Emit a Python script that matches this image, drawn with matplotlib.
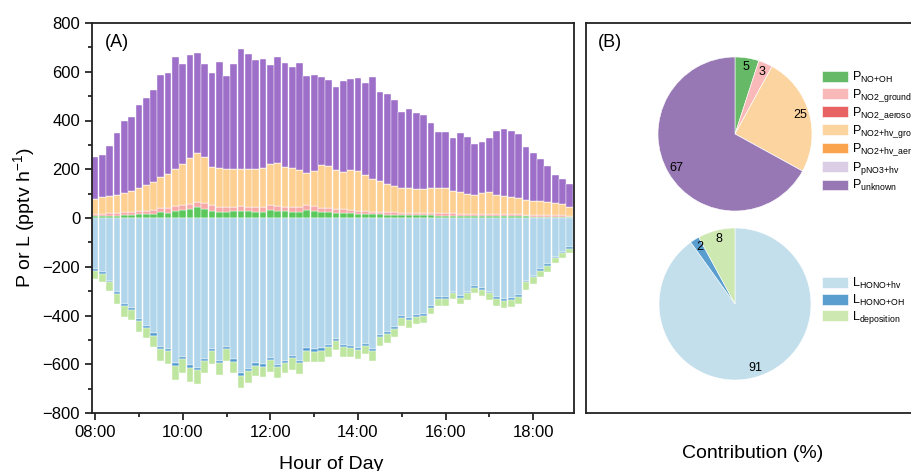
import matplotlib
matplotlib.use('Agg')
import matplotlib.pyplot as plt
import numpy as np
from matplotlib.ticker import MultipleLocator, FuncFormatter

plt.rcParams['font.family'] = ['Liberation Sans', 'DejaVu Sans']
plt.rcParams['mathtext.fontset'] = 'custom'
plt.rcParams['mathtext.rm'] = 'Liberation Sans'
plt.rcParams['mathtext.it'] = 'Liberation Sans:italic'

# 10-min bins from 08:00 to 18:50
hours = 8 + np.arange(66) / 6

# production terms (pptv h-1)
p_no_oh = [8, 8, 9, 10, 11, 14, 15, 16, 18, 24, 22, 30, 33, 36, 44, 38, 30, 26, 26, 27, 29, 27,
           26, 26, 33, 30, 27, 26, 26, 33, 30, 26, 23, 22, 22, 19, 16, 16, 15, 15, 14, 14, 12, 12,
           12, 11, 11, 10, 10, 10, 9, 9, 9, 9, 8, 8, 8, 8, 7, 7, 6, 6, 6, 5, 5, 4]
p_no2_ground = [7, 9, 10, 11, 12, 12, 13, 14, 14, 16, 18, 18, 20, 20, 22, 22, 22, 20, 18, 18, 19, 20,
                20, 20, 22, 21, 20, 18, 18, 20, 19, 16, 16, 15, 15, 13, 13, 12, 11, 10, 10, 10, 10, 10,
                10, 10, 10, 9, 9, 9, 9, 9, 9, 8, 8, 8, 8, 8, 8, 7, 7, 7, 6, 6, 6, 5]
p_no2_aerosol = [0.0] * 66       # not visible in the bars
p_no2_hv_ground = [62, 68, 71, 72, 78, 86, 95, 104, 116, 130, 142, 152, 169, 192, 199, 192, 159, 158, 157, 156, 154, 153,
                   154, 158, 167, 176, 164, 160, 153, 133, 145, 175, 174, 160, 153, 165, 165, 148, 133, 128, 115, 107, 100, 100,
                   96, 99, 103, 105, 103, 93, 90, 80, 76, 84, 91, 78, 74, 71, 66, 60, 57, 57, 55, 49, 45, 35]
p_no2_hv_aerosol = [0.0] * 66
p_pno3_hv = [0.0] * 66
p_unknown = [172, 173, 205, 254, 298, 304, 341, 357, 377, 417, 414, 462, 410, 421, 411, 380, 383, 437, 382, 431, 493, 473,
             448, 447, 406, 432, 426, 417, 440, 398, 393, 362, 353, 339, 373, 372, 382, 379, 420, 365, 368, 353, 314, 324,
             311, 304, 264, 230, 231, 215, 239, 233, 210, 212, 223, 263, 274, 271, 262, 216, 195, 171, 148, 118, 103, 94]

# loss terms (pptv h-1)
l_hono_hv = [211, 222, 257, 305, 353, 368, 414, 442, 473, 528, 539, 596, 572, 605, 615, 577, 539, 587, 529, 580, 637, 620,
             596, 600, 573, 603, 585, 566, 585, 535, 539, 535, 521, 496, 521, 525, 532, 516, 539, 480, 466, 446, 402, 412,
             399, 393, 361, 325, 325, 302, 320, 302, 279, 289, 302, 325, 332, 327, 316, 257, 237, 209, 190, 159, 139, 120]
l_hono_oh = [6, 6, 7, 8, 8, 8, 9, 8, 10, 8, 8, 10, 8, 9, 10, 8, 8, 8, 10, 9, 10, 9,
             10, 10, 10, 10, 10, 10, 10, 9, 10, 9, 10, 9, 8, 8, 8, 8, 8, 8, 9, 8, 8, 8,
             8, 8, 8, 9, 9, 7, 8, 7, 8, 8, 7, 9, 9, 9, 8, 7, 6, 7, 7, 5, 6, 6]
l_deposition = [35, 35, 34, 40, 44, 42, 43, 44, 45, 49, 52, 59, 55, 57, 56, 50, 52, 49, 46, 48, 52, 47,
                42, 44, 48, 45, 42, 48, 45, 45, 40, 45, 41, 37, 40, 39, 40, 35, 38, 37, 36, 35, 33, 32,
                28, 29, 25, 26, 26, 25, 26, 27, 22, 23, 27, 27, 30, 28, 29, 31, 28, 27, 26, 19, 18, 16]

# pie contributions (%)
prod_labels = [r'P$_{\mathrm{NO{+}OH}}$', r'P$_{\mathrm{NO2\_ground}}$', r'P$_{\mathrm{NO2\_aerosol}}$',
               r'P$_{\mathrm{NO2{+}hv\_ground}}$', r'P$_{\mathrm{NO2{+}hv\_aerosol}}$',
               r'P$_{\mathrm{pNO3{+}hv}}$', r'P$_{\mathrm{unknown}}$']
prod_share = [5, 3, 0, 25, 0, 0, 67]
loss_labels = [r'L$_{\mathrm{HONO{+}hv}}$', r'L$_{\mathrm{HONO{+}OH}}$', r'L$_{\mathrm{deposition}}$']
loss_share = [91, 2, 8]

prod_bar_colors = ['#5cc85c', '#f7a9a8', '#e8545a', '#fdcf91', '#fca044', '#dccbe6', '#9d6fc9']
loss_bar_colors = ['#b1d5ea', '#4f9bd0', '#bfe6a1']
prod_pie_colors = ['#66b966', '#f9b9b9', '#e86264', '#fcd49f', '#fba44e', '#dccde6', '#9778b5']
loss_pie_colors = ['#c3dfec', '#5a9ecf', '#cde8b1']

W, H = 912, 471
fig = plt.figure(figsize=(W / 100, H / 100), dpi=100)

# ---- panel A ----
ax = fig.add_axes([92 / W, 58 / H, 482 / W, 390 / H])
width = 10 / 60 * 0.92
bottom = np.zeros(len(hours))
for vals, col in zip([p_no_oh, p_no2_ground, p_no2_aerosol, p_no2_hv_ground,
                      p_no2_hv_aerosol, p_pno3_hv, p_unknown], prod_bar_colors):
    v = np.array(vals, dtype=float)
    ax.bar(hours, v, width, bottom=bottom, color=col, edgecolor='white', linewidth=0.3)
    bottom += v
bottom = np.zeros(len(hours))
for vals, col in zip([l_hono_hv, l_hono_oh, l_deposition], loss_bar_colors):
    v = np.array(vals, dtype=float)
    ax.bar(hours, -v, width, bottom=bottom, color=col, edgecolor='white', linewidth=0.3)
    bottom -= v

ax.set_xlim(7.93, 18.93)
ax.set_ylim(-800, 800)
ax.xaxis.set_major_locator(MultipleLocator(2))
ax.xaxis.set_minor_locator(MultipleLocator(1))
ax.xaxis.set_major_formatter(FuncFormatter(lambda x, pos: f'{int(round(x)):02d}:00'))
ax.yaxis.set_major_locator(MultipleLocator(200))
ax.yaxis.set_minor_locator(MultipleLocator(100))
ax.tick_params(which='major', direction='out', length=5, width=1.1, labelsize=12)
ax.tick_params(which='minor', direction='out', length=3, width=1.1)
for s in ax.spines.values():
    s.set_linewidth(1.3)
    s.set_color('#222222')
ax.set_ylabel(r'P or L (pptv h$^{-1}$)', fontsize=14, labelpad=4)
ax.text(0.027, 0.951, '(A)', transform=ax.transAxes, fontsize=13, ha='left', va='center')
fig.text(331 / W, 1 - 469 / H, 'Hour of Day', fontsize=14, ha='center', va='baseline')

# ---- panel B ----
axb = fig.add_axes([586 / W, 58 / H, 340 / W, 390 / H])
axb.set_xticks([])
axb.set_yticks([])
for s in axb.spines.values():
    s.set_linewidth(1.3)
    s.set_color('#222222')
axb.text(0.035, 0.951, '(B)', transform=axb.transAxes, fontsize=13, ha='left', va='center')
fig.text(753 / W, 1 - 458 / H, 'Contribution (%)', fontsize=14, ha='center', va='baseline')


def draw_pie(cx, cy, r, shares, colors):
    pax = fig.add_axes([(cx - r) / W, 1 - (cy + r) / H, 2 * r / W, 2 * r / H])
    labels = [str(v) if v > 0 else '' for v in shares]
    wedges, texts = pax.pie(shares, colors=colors, startangle=90, counterclock=False,
                            labels=labels, labeldistance=0.88,
                            wedgeprops=dict(edgecolor='white', linewidth=0.4),
                            textprops=dict(fontsize=9, ha='center', va='center'))
    pax.set_xlim(-1, 1)
    pax.set_ylim(-1, 1)
    return wedges


w_top = draw_pie(735, 134, 77, prod_share, prod_pie_colors)
w_bot = draw_pie(735, 304, 76, loss_share, loss_pie_colors)

leg_kw = dict(loc='upper left', frameon=False, fontsize=9, handlelength=2.1, handleheight=0.95,
              handletextpad=0.3, labelspacing=0.12, borderpad=0, borderaxespad=0,
              bbox_transform=fig.transFigure)
fig.legend(w_top, prod_labels, bbox_to_anchor=(822 / W, 1 - 70 / H), **leg_kw)
fig.legend(w_bot, loss_labels, bbox_to_anchor=(822 / W, 1 - 276 / H), **leg_kw)

fig.savefig('out.png', dpi=100)
